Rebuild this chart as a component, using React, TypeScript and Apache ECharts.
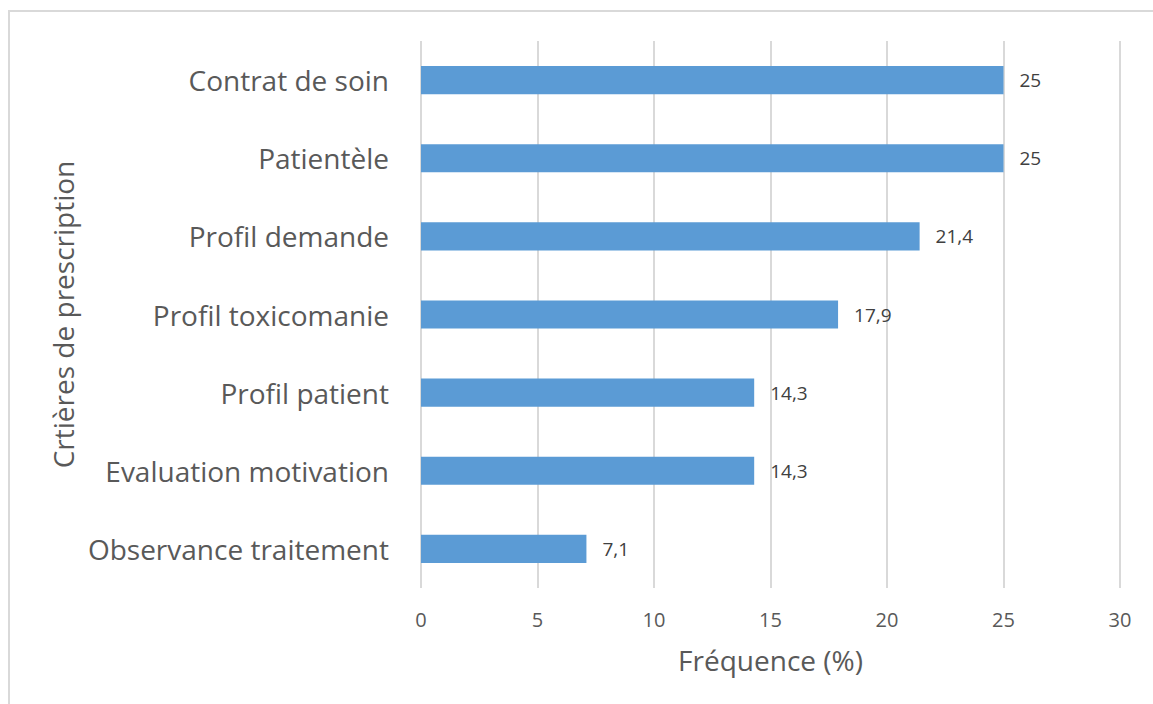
import React, { useEffect, useRef } from "react";
import * as echarts from "echarts";

const categories = [
  "Contrat de soin",
  "Patientèle",
  "Profil demande",
  "Profil toxicomanie",
  "Profil patient",
  "Evaluation motivation",
  "Observance traitement",
];
const values = [25, 25, 21.4, 17.9, 14.3, 14.3, 7.1];
const xTicks = [0, 5, 10, 15, 20, 25, 30];

const FONT = "'Open Sans', 'Noto Sans', sans-serif";

export default function App() {
  const ref = useRef<HTMLDivElement>(null);
  useEffect(() => {
    if (!ref.current) return;
    const chart = echarts.init(ref.current, undefined, { renderer: "svg" });
    chart.setOption({
      animation: false,
      backgroundColor: "#ffffff",
      textStyle: { fontFamily: FONT },
      graphic: [
        {
          type: "rect",
          shape: { x: 9, y: 11, width: 1200, height: 760 },
          style: { fill: "none", stroke: "#d9d9d9", lineWidth: 2 },
          silent: true,
        },
      ],
      grid: { left: 421, right: 33, top: 41, bottom: 116, containLabel: false },
      xAxis: {
        type: "value",
        min: xTicks[0],
        max: xTicks[xTicks.length - 1],
        interval: 5,
        name: "Fréquence (%)",
        nameLocation: "middle",
        nameGap: 58,
        nameTextStyle: { fontSize: 28, color: "#595959", fontFamily: FONT },
        axisLine: { show: false },
        axisTick: { show: false },
        axisLabel: { fontSize: 20, color: "#595959", margin: 21, fontFamily: FONT },
        splitLine: { show: true, lineStyle: { color: "#d9d9d9", width: 2 } },
      },
      yAxis: {
        type: "category",
        data: categories,
        inverse: true,
        name: "Crtières de prescription",
        nameLocation: "middle",
        nameRotate: 90,
        nameGap: 342,
        nameTextStyle: { fontSize: 28, color: "#595959", fontFamily: FONT },
        axisLine: { show: false },
        axisTick: { show: false },
        axisLabel: { fontSize: 28, color: "#595959", margin: 32, fontFamily: FONT },
        splitLine: { show: false },
      },
      series: [
        {
          type: "bar",
          data: values,
          barWidth: "36%",
          itemStyle: { color: "#5b9bd5" },
          label: {
            show: true,
            position: "right",
            distance: 16,
            fontSize: 19,
            color: "#404040",
            fontFamily: FONT,
            formatter: (p: any) => String(p.value).replace(".", ","),
          },
        },
      ],
    });
    return () => chart.dispose();
  }, []);
  return (
    <div
      ref={ref}
      style={{ position: "fixed", left: 0, top: 0, width: 1153, height: 704 }}
    />
  );
}
